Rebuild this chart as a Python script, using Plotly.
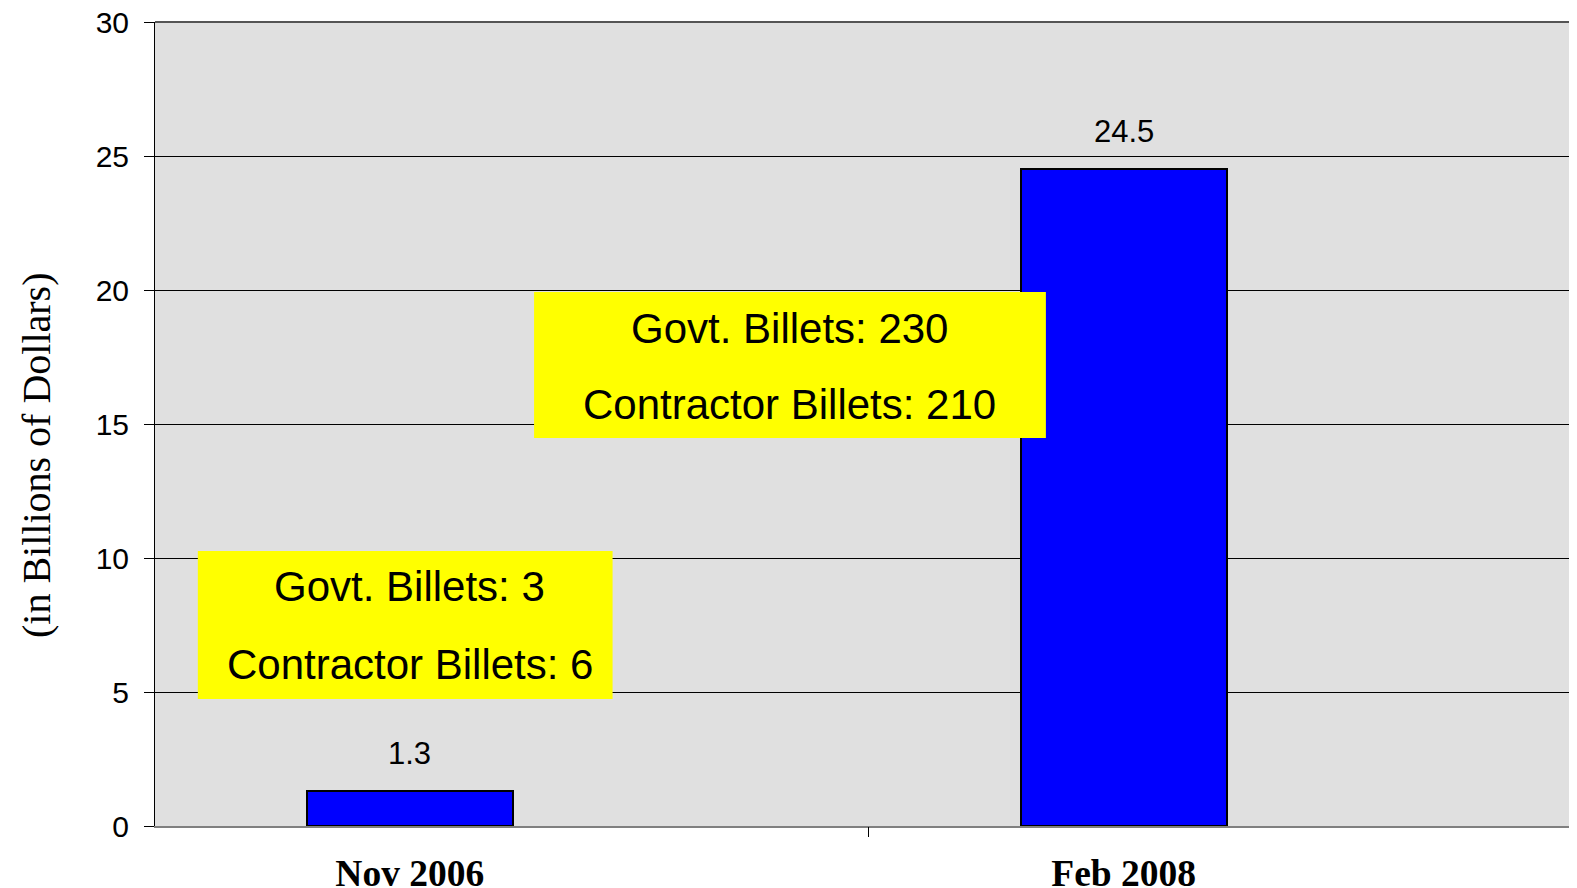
import plotly.graph_objects as go

# ---- data ----
categories = ["Nov 2006", "Feb 2008"]
values = [1.3, 24.5]
value_labels = ["1.3", "24.5"]
box_lines = [
    ["Govt. Billets: 3", "Contractor Billets: 6"],
    ["Govt. Billets: 230", "Contractor Billets: 210"],
]
y_ticks = [0, 5, 10, 15, 20, 25, 30]

# page body has an 8px default margin, so the figure is offset by 8px
W, H = 1569, 880
L, T, B = 147, 14, 62
x_range = [-0.357, 1.635]
y_range = [0, 30]

fig = go.Figure()
fig.add_trace(go.Bar(
    x=categories, y=values, width=0.2885,
    marker=dict(color="#0000FF", line=dict(color="#000000", width=2)),
    hoverinfo="skip", showlegend=False,
))
# invisible trace to anchor the boundary-tick axis
fig.add_trace(go.Scatter(x=[], y=[], xaxis="x2", yaxis="y", showlegend=False))

for i, (c, v, t) in enumerate(zip(categories, values, value_labels)):
    fig.add_annotation(x=i, y=v, xref="x", yref="y", text=t, showarrow=False,
                       yanchor="bottom", yshift=18,
                       font=dict(family="Liberation Sans, Arial", size=31, color="#000"))

# yellow boxes (layout positions in data coords)
boxes = [
    dict(x0=-0.297, x1=0.284, y0=4.74, y1=10.26, cx=0.0, ly=[8.92, 6.01]),
    dict(x0=0.174, x1=0.891, y0=14.48, y1=19.93, cx=0.532, ly=[18.55, 15.71]),
]
for b, lines in zip(boxes, box_lines):
    fig.add_shape(type="rect", xref="x", yref="y", x0=b["x0"], x1=b["x1"],
                  y0=b["y0"], y1=b["y1"], fillcolor="#FFFF00",
                  line=dict(width=0), layer="above")
    for yy, txt in zip(b["ly"], lines):
        fig.add_annotation(x=b["cx"], y=yy, xref="x", yref="y", text=txt,
                           showarrow=False, xanchor="center", yanchor="middle",
                           font=dict(family="Liberation Sans, Arial", size=42, color="#000"))

# top border line
fig.add_shape(type="line", xref="paper", yref="paper", x0=0, x1=1, y0=1, y1=1,
              line=dict(color="#555555", width=2), layer="above")

# y-axis title
fig.add_annotation(xref="paper", yref="paper", x=0, y=0.4614, xshift=-119,
                   text="(in Billions of Dollars)", textangle=-90, showarrow=False,
                   xanchor="center", yanchor="middle",
                   font=dict(family="Liberation Serif, Times New Roman", size=40, color="#000"))

fig.update_layout(
    width=W, height=H,
    margin=dict(l=L, r=0, t=T, b=B, pad=0, autoexpand=False),
    paper_bgcolor="#FFFFFF",
    plot_bgcolor="#E0E0E0",
    bargap=0,
    xaxis=dict(
        type="category", range=x_range, showgrid=False, zeroline=False,
        showline=True, linecolor="#808080", linewidth=2, automargin=False,
        ticks="", ticklabelstandoff=13, ticklabeloverflow="allow",
        tickfont=dict(family="Liberation Serif, Times New Roman", size=37.5,
                      color="#000", weight="bold"),
    ),
    xaxis2=dict(
        overlaying="x", anchor="y", side="bottom", range=[x_range[0], x_range[1]],
        tickvals=[0.643], ticks="outside", ticklen=10, tickcolor="#000", tickwidth=1,
        showticklabels=False, showgrid=False, zeroline=False, showline=False,
        automargin=False,
    ),
    yaxis=dict(
        range=y_range, tickvals=y_ticks, showgrid=True, gridcolor="#000000", gridwidth=1,
        zeroline=False, showline=True, linecolor="#000000", linewidth=1, automargin=False,
        ticks="outside", ticklen=10, tickcolor="#000", ticklabelstandoff=9,
        ticklabeloverflow="allow",
        tickfont=dict(family="Liberation Sans, Arial", size=30, color="#000"),
    ),
)

fig.write_html("out.html")
